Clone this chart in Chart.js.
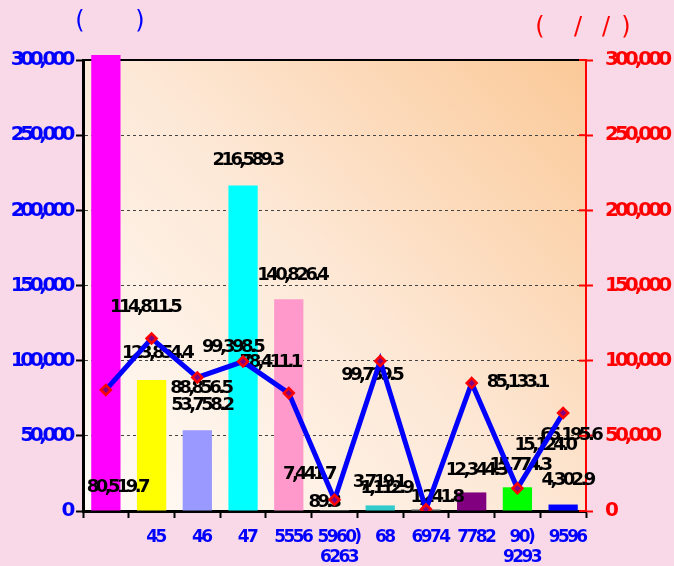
<!DOCTYPE html>
<html>
<head>
<meta charset="utf-8">
<script src="https://cdn.jsdelivr.net/npm/chart.js@4.4.0/dist/chart.umd.min.js"></script>
<style>
  html, body { margin: 0; padding: 0; background: #f9d9e7; }
  #grafica { display: block; }
</style>
</head>
<body>
<canvas id="grafica" width="674" height="566"></canvas>
<script>
// datos
const categorias = ['', '45', '46', '47', '5556', ['5960)', '6263'], '68', '6974', '7782', ['90)', '9293'], '9596'];
const barras = [303300, 87200, 53758.2, 216589.3, 140826.4, 89.3, 3719.1, 1241.8, 12344.3, 15774.3, 4302.9];
const etiquetasBarras = ['', '123,854.4', '53,758.2', '216,589.3', '140,826.4', '89.3', '3,719.1', '1,241.8', '12,344.3', '15,774.3', '4,302.9'];
const linea = [80519.7, 114811.5, 88856.5, 99398.5, 78411.1, 7441.7, 99739.5, 1112.9, 85133.1, 15124.0, 65195.6];
const etiquetasLinea = ['80,519.7', '114,811.5', '88,856.5', '99,398.5', '78,411.1', '7,441.7', '99,739.5', '1,112.9', '85,133.1', '15,124.0', '65,195.6'];
const ejeMin = 0;
const ejeMax = 300000;
const ejePaso = 50000;

const coloresBarras = ['#ff00ff', '#ffff00', '#9999ff', '#00ffff', '#ff99cc', '#cccccc', '#33cccc', '#999999', '#800080', '#00ff00', '#0000ff'];

// desplazamiento de cada etiqueta respecto a su punto (px)
const despBarras = [null, [5, -27], [4, -25], [4, -25], [3, -24], [-11, -9], [-2, -23], [10, -12], [4, -22], [2, -22], [4, -24]];
const despLinea = [[11, 97], [-7, -31], [3, 11], [-11, -14], [-19, -31], [-26, -25], [-9, 14], [-40, -21], [45, -1], [27, -43], [7, 22]];

const espaciado = { x: '-2.6px', y: '-4.4px', y1: '-4px' };

function formato(v) {
    return Number(v).toLocaleString('en-US');
}

const fondo = {
    id: 'fondo',
    beforeDraw(chart) {
        const a = chart.chartArea;
        const ctx = chart.ctx;
        const g = ctx.createLinearGradient(a.left, a.bottom, a.right, a.top);
        g.addColorStop(0, '#fffcf8');
        g.addColorStop(0.5, '#fde8d6');
        g.addColorStop(1, '#fbc998');
        ctx.save();
        ctx.fillStyle = g;
        ctx.fillRect(a.left, a.top, a.right - a.left, a.bottom - a.top);
        ctx.restore();
        // letra apretada en los ejes
        Object.values(chart.scales).forEach(function(s) {
            if (s._apretado) return;
            const orig = s.drawLabels;
            s.drawLabels = function(area) {
                this.ctx.save();
                this.ctx.letterSpacing = espaciado[this.id] || '0px';
                orig.call(this, area);
                this.ctx.restore();
            };
            s._apretado = true;
        });
    },
    beforeDatasetsDraw(chart) {
        const a = chart.chartArea;
        const ctx = chart.ctx;
        ctx.save();
        ctx.strokeStyle = '#000';
        ctx.lineWidth = 2;
        ctx.beginPath();
        ctx.moveTo(a.left, a.top);
        ctx.lineTo(a.right, a.top);
        ctx.stroke();
        ctx.restore();
    },
    beforeDatasetDraw(chart, args) {
        if (args.index !== 1) return;
        const ctx = chart.ctx;
        const barMeta = chart.getDatasetMeta(0);
        const lineMeta = chart.getDatasetMeta(1);
        ctx.save();
        ctx.font = 'bold 18px "DejaVu Sans"';
        ctx.letterSpacing = '-3.6px';
        ctx.fillStyle = '#000';
        ctx.textAlign = 'center';
        ctx.textBaseline = 'middle';
        barMeta.data.forEach(function(el, i) {
            if (!etiquetasBarras[i] || !despBarras[i]) return;
            ctx.fillText(etiquetasBarras[i], el.x + despBarras[i][0], el.y + despBarras[i][1]);
        });
        lineMeta.data.forEach(function(el, i) {
            ctx.fillText(etiquetasLinea[i], el.x + despLinea[i][0], el.y + despLinea[i][1]);
        });
        ctx.restore();
    },
    afterDraw(chart) {
        const a = chart.chartArea;
        const ctx = chart.ctx;
        const y1 = chart.scales.y1;
        ctx.save();
        ctx.strokeStyle = '#ff0000';
        ctx.lineWidth = 2;
        y1.ticks.forEach(function(t) {
            const py = y1.getPixelForValue(t.value);
            ctx.beginPath();
            ctx.moveTo(a.right - 7, py);
            ctx.lineTo(a.right, py);
            ctx.stroke();
        });
        ctx.font = '24px "DejaVu Sans"';
        ctx.textAlign = 'center';
        ctx.textBaseline = 'middle';
        ctx.fillStyle = '#0000ff';
        ctx.fillText('(', a.left - 3, a.top - 38);
        ctx.fillText(')', a.left + 57, a.top - 38);
        ctx.fillStyle = '#ff0000';
        ctx.fillText('(', a.right - 46, a.top - 32);
        ctx.fillText('/', a.right - 8, a.top - 32);
        ctx.fillText('/', a.right + 20, a.top - 32);
        ctx.fillText(')', a.right + 40, a.top - 32);
        ctx.restore();
    }
};

var ctx = document.getElementById('grafica').getContext('2d');
var chart = new Chart(ctx, {
    type: 'bar',
    data: {
        labels: categorias,
        datasets: [
            {
                type: 'bar',
                data: barras,
                backgroundColor: coloresBarras,
                borderWidth: 0,
                barPercentage: 0.64,
                categoryPercentage: 1,
                yAxisID: 'y',
                order: 1,
                clip: false
            },
            {
                type: 'line',
                data: linea,
                borderColor: '#0000ff',
                borderWidth: 5,
                tension: 0,
                pointStyle: 'rectRot',
                pointRadius: 5,
                pointBorderWidth: 2.5,
                pointBorderColor: '#ff0000',
                pointBackgroundColor: '#800080',
                yAxisID: 'y1',
                order: 0
            }
        ]
    },
    options: {
        animation: false,
        responsive: false,
        maintainAspectRatio: false,
        layout: { padding: { top: 60, left: 0, right: 0, bottom: 0 } },
        plugins: {
            legend: { display: false },
            tooltip: { enabled: false },
            title: { display: false }
        },
        scales: {
            x: {
                afterFit: function(s) { s.height = 55; },
                grid: {
                    offset: true,
                    drawOnChartArea: false,
                    tickLength: 7,
                    tickWidth: 2,
                    tickColor: '#000'
                },
                border: { color: '#000', width: 3 },
                ticks: {
                    color: '#0000ff',
                    padding: 9,
                    labelOffset: 4,
                    maxRotation: 0,
                    autoSkip: false,
                    font: { family: 'DejaVu Sans', size: 17, weight: 'bold', lineHeight: 1.2 }
                }
            },
            y: {
                position: 'left',
                min: ejeMin,
                max: ejeMax,
                afterFit: function(s) { s.width = 83; },
                grid: {
                    color: '#444',
                    lineWidth: 1,
                    tickLength: 7,
                    tickWidth: 2,
                    tickColor: '#000',
                    tickBorderDash: [10, 0]
                },
                border: { color: '#000', width: 3, dash: [3, 3] },
                ticks: {
                    stepSize: ejePaso,
                    color: '#0000ff',
                    padding: 5,
                    callback: formato,
                    font: { family: 'DejaVu Sans', size: 20, weight: 'bold' }
                }
            },
            y1: {
                position: 'right',
                min: ejeMin,
                max: ejeMax,
                afterFit: function(s) { s.width = 88; },
                grid: {
                    drawOnChartArea: false,
                    tickLength: 7,
                    tickWidth: 2,
                    tickColor: '#ff0000'
                },
                border: { color: '#ff0000', width: 2 },
                ticks: {
                    stepSize: ejePaso,
                    color: '#ff0000',
                    padding: 12,
                    callback: formato,
                    font: { family: 'DejaVu Sans', size: 20, weight: 'bold' }
                }
            }
        }
    },
    plugins: [fondo]
});
</script>
</body>
</html>
